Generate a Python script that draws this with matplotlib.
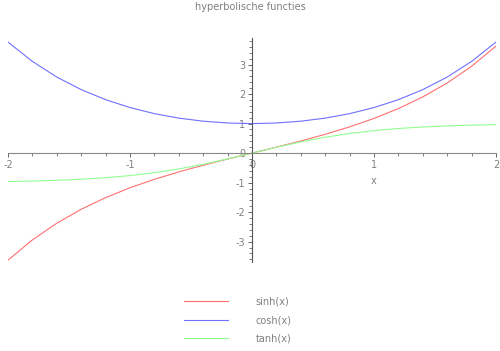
import matplotlib
matplotlib.use("Agg")
import matplotlib.pyplot as plt
from matplotlib.ticker import MultipleLocator

plt.rcParams["axes.unicode_minus"] = False

x_vals = [-2.0, -1.8, -1.6, -1.4, -1.2, -1.0, -0.8, -0.6, -0.4, -0.2, 0.0,
          0.2, 0.4, 0.6, 0.8, 1.0, 1.2, 1.4, 1.6, 1.8, 2.0]
sinh_vals = [-3.627, -2.942, -2.376, -1.904, -1.509, -1.175, -0.888, -0.637, -0.411, -0.201, 0.0,
             0.201, 0.411, 0.637, 0.888, 1.175, 1.509, 1.904, 2.376, 2.942, 3.627]
cosh_vals = [3.762, 3.107, 2.577, 2.151, 1.811, 1.543, 1.337, 1.185, 1.081, 1.020, 1.0,
             1.020, 1.081, 1.185, 1.337, 1.543, 1.811, 2.151, 2.577, 3.107, 3.762]
tanh_vals = [-0.964, -0.947, -0.922, -0.885, -0.834, -0.762, -0.664, -0.537, -0.380, -0.197, 0.0,
             0.197, 0.380, 0.537, 0.664, 0.762, 0.834, 0.885, 0.922, 0.947, 0.964]
labels = ["sinh(x)", "cosh(x)", "tanh(x)"]
x_ticks = [-2, -1, 0, 1, 2]
y_ticks = [-3, -2, -1, 0, 1, 2, 3]

red = "#ff7070"
blue = "#7070ff"
green = "#90ff90"
gray = "#808080"

fig = plt.figure(figsize=(5.0, 3.51), dpi=100)
ax = fig.add_axes([0.016, 0.2536, 0.976, 0.6381])
ax.set_xlim(-2, 2)
ax.set_ylim(-3.69, 3.9)

l1, = ax.plot(x_vals, sinh_vals, color=red, lw=0.8, label=labels[0])
l2, = ax.plot(x_vals, cosh_vals, color=blue, lw=0.8, label=labels[1])
l3, = ax.plot(x_vals, tanh_vals, color=green, lw=0.8, label=labels[2])

for s in ["top", "right"]:
    ax.spines[s].set_visible(False)
ax.spines["left"].set_position(("data", 0))
ax.spines["bottom"].set_position(("data", 0))
ax.spines["left"].set_color("#555555")
ax.spines["bottom"].set_color("#888888")
ax.spines["left"].set_linewidth(0.8)
ax.spines["bottom"].set_linewidth(0.8)

ax.set_xticks(x_ticks)
ax.set_yticks(y_ticks)
ax.xaxis.set_minor_locator(MultipleLocator(0.2))
ax.yaxis.set_minor_locator(MultipleLocator(0.2))
ax.tick_params(axis="both", which="major", length=3, width=0.7, colors="#666666",
               labelcolor=gray, labelsize=7, pad=2)
ax.tick_params(axis="both", which="minor", length=2, width=0.6, colors="#666666")
ax.set_facecolor("none")

ax.text(1.0, -0.95, "x", color=gray, fontsize=7, ha="center", va="center")
fig.text(0.5, 0.98, "hyperbolische functies", color=gray, fontsize=7, ha="center", va="center")

leg = fig.legend(handles=[l1, l2, l3], labels=labels, loc="center",
                 bbox_to_anchor=(0.475, 0.088), frameon=False, fontsize=7,
                 handlelength=4.6, handletextpad=2.8, labelspacing=0.9)
for t in leg.get_texts():
    t.set_color(gray)

fig.savefig("out.png", dpi=100)
